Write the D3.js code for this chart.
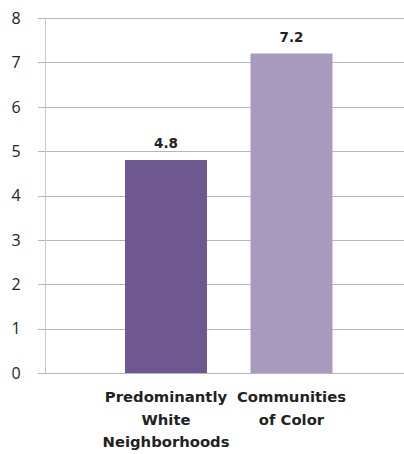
<!DOCTYPE html>
<html><head><meta charset="utf-8">
<script src="https://cdn.jsdelivr.net/npm/d3@7"></script>
<style>body{margin:0;background:#fff;}svg{display:block;}</style>
</head><body>
<svg id="c" width="404" height="454"></svg>
<script>
const categories = [["Predominantly","White","Neighborhoods"],["Communities","of Color"]];
const values = [4.8, 7.2];
const colors = ["#6f578f", "#a899bf"];
const yTicks = [0,1,2,3,4,5,6,7,8];

const svg = d3.select("#c");
const x0 = 45, y0 = 373, yTop = 18;
const y = d3.scaleLinear().domain([0,8]).range([y0, yTop]);
const x = d3.scaleBand().domain(d3.range(categories.length)).range([103.25, 354.25])
  .paddingInner(0.347).paddingOuter(0.1735);

// gridlines
svg.append("g").selectAll("line").data(yTicks).join("line")
  .attr("x1", 38).attr("x2", 404)
  .attr("y1", d => Math.round(y(d))+0.5).attr("y2", d => Math.round(y(d))+0.5)
  .attr("stroke", "#b5b5b5").attr("stroke-width", 1);

// y axis line
svg.append("line").attr("x1", x0+0.5).attr("x2", x0+0.5).attr("y1", y(8)).attr("y2", y0)
  .attr("stroke", "#c8c8c8").attr("stroke-width", 1);

// tick labels
svg.append("g").selectAll("text").data(yTicks).join("text")
  .attr("x", 16).attr("y", d => y(d)).attr("dy", "0.36em")
  .attr("text-anchor", "middle")
  .attr("font-family", "Open Sans, sans-serif").attr("font-size", 16).attr("fill", "#222")
  .text(d => d);

// bars
svg.append("g").selectAll("rect").data(values).join("rect")
  .attr("x", (d,i) => x(i)).attr("width", x.bandwidth())
  .attr("y", d => y(d)).attr("height", d => y0 - y(d))
  .attr("fill", (d,i) => colors[i]);

// value labels
svg.append("g").selectAll("text").data(values).join("text")
  .attr("x", (d,i) => x(i) + x.bandwidth()/2).attr("y", d => y(d) - 12)
  .attr("text-anchor", "middle")
  .attr("font-family", "DejaVu Sans, sans-serif").attr("font-weight", "bold").attr("font-size", 13.5).attr("fill", "#222")
  .text(d => d.toFixed(1));

// category labels
const cl = svg.append("g").selectAll("text").data(categories).join("text")
  .attr("x", (d,i) => x(i) + x.bandwidth()/2)
  .attr("text-anchor", "middle")
  .attr("font-family", "DejaVu Sans, sans-serif").attr("font-weight", "bold").attr("font-size", 14.8).attr("fill", "#222");
cl.each(function(lines){
  d3.select(this).selectAll("tspan").data(lines).join("tspan")
    .attr("x", d3.select(this).attr("x"))
    .attr("y", (d,j) => 402 + j*22.5)
    .text(d => d);
});
</script>
</body></html>
